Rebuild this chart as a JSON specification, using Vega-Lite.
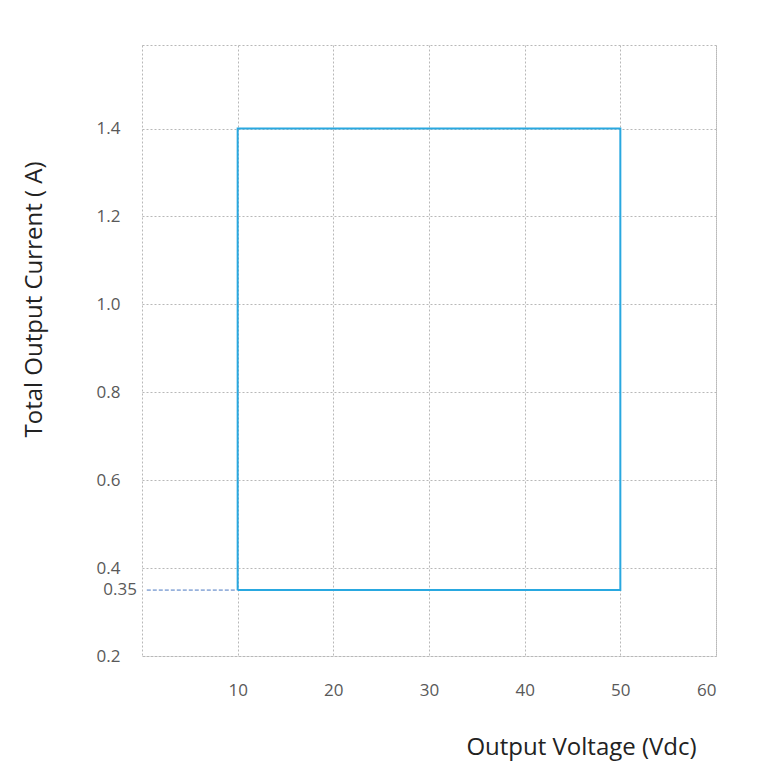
{
  "$schema": "https://vega.github.io/schema/vega-lite/v6.json",
  "autosize": "none",
  "width": 574,
  "height": 611,
  "padding": {"left": 142, "top": 45, "right": 47, "bottom": 119},
  "background": "white",
  "config": {
    "view": {"stroke": "#b8b8b8", "strokeDash": [2, 2], "strokeWidth": 1},
    "axis": {
      "domain": false,
      "ticks": false,
      "gridColor": "#b8b8b8",
      "gridDash": [2, 2],
      "gridWidth": 1,
      "labelFont": "Open Sans",
      "labelFontSize": 17,
      "labelColor": "#595959",
      "titleFont": "Open Sans",
      "titleFontSize": 24,
      "titleFontWeight": "normal",
      "titleColor": "#222222"
    }
  },
  "datasets": {
    "box": [
      {"voltage": 10, "current": 0.35, "seq": 1},
      {"voltage": 10, "current": 1.4, "seq": 2},
      {"voltage": 50, "current": 1.4, "seq": 3},
      {"voltage": 50, "current": 0.35, "seq": 4},
      {"voltage": 10, "current": 0.35, "seq": 5}
    ],
    "guide": [
      {"voltage": 0.5, "current": 0.35, "seq": 1},
      {"voltage": 10, "current": 0.35, "seq": 2}
    ],
    "mark035": [
      {"voltage": 0, "current": 0.35, "label": "0.35"}
    ]
  },
  "layer": [
    {
      "data": {"name": "guide"},
      "mark": {"type": "line", "color": "#4a78c2", "strokeWidth": 1, "strokeDash": [4, 2]},
      "encoding": {
        "x": {
          "field": "voltage", "type": "quantitative",
          "scale": {"domain": [0, 60], "nice": false, "zero": false},
          "axis": {
            "values": [10, 20, 30, 40, 50, 60],
            "labelPadding": 26,
            "title": "Output Voltage (Vdc)",
            "titleX": 439,
            "titleY": 79,
            "titleAlign": "center",
            "titleBaseline": "top"
          }
        },
        "y": {
          "field": "current", "type": "quantitative",
          "scale": {"domain": [0.2, 1.59], "nice": false, "zero": false},
          "axis": {
            "values": [0.2, 0.4, 0.6, 0.8, 1.0, 1.2, 1.4],
            "format": ".1f",
            "labelPadding": 22,
            "title": "Total Output Current ( A)",
            "titleX": -96,
            "titleY": 254,
            "titleAlign": "center",
            "titleBaseline": "bottom"
          }
        },
        "order": {"field": "seq", "type": "quantitative"}
      }
    },
    {
      "data": {"name": "box"},
      "mark": {"type": "line", "color": "#29a8e0", "strokeWidth": 2},
      "encoding": {
        "x": {"field": "voltage", "type": "quantitative"},
        "y": {"field": "current", "type": "quantitative"},
        "order": {"field": "seq", "type": "quantitative"}
      }
    },
    {
      "data": {"name": "mark035"},
      "mark": {"type": "text", "align": "right", "baseline": "middle", "dx": -5, "font": "Open Sans", "fontSize": 17, "color": "#595959"},
      "encoding": {
        "x": {"field": "voltage", "type": "quantitative"},
        "y": {"field": "current", "type": "quantitative"},
        "text": {"field": "label"}
      }
    }
  ]
}
